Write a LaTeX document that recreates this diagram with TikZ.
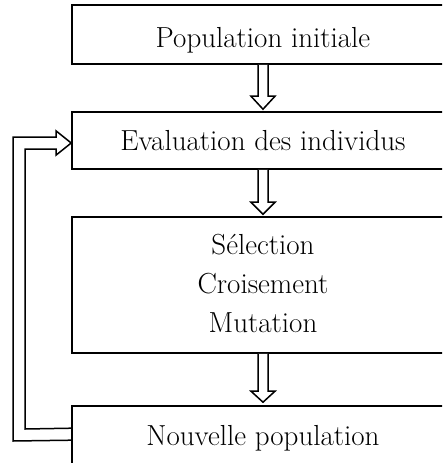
\documentclass[tikz,border=0pt]{standalone}
\usetikzlibrary{calc}
\begin{document}
\begin{tikzpicture}[x=1pt,y=-1pt,
  box/.style={draw, line width=1.6pt, rectangle, inner sep=0pt, minimum width=382pt},
  lbl/.style={anchor=base, inner sep=0pt, font=\fontsize{29}{34}\selectfont},
  fat/.style={draw, line width=1.5pt, line join=miter, fill=white}]
\useasboundingbox (0,0) rectangle (442,463);
\clip (0,0) rectangle (442,463);
\node[box, minimum height=59pt] (b1) at (263,34.5) {};
\node[box, minimum height=57pt] (b2) at (263,140.5) {};
\node[box, minimum height=136pt] (b3) at (263,285) {};
\node[box, minimum height=64pt] (b4) at (263,438) {};
\node[lbl] (t1) at (263,47) {Population initiale};
\node[lbl] (t2) at (263,150) {Evaluation des individus};
\node[lbl] (t3a) at (263,254) {Sélection};
\node[lbl] (t3b) at (263,293) {Croisement};
\node[lbl] (t3c) at (263,332) {Mutation};
\node[lbl] (t4) at (263,445) {Nouvelle population};
% vertical double arrows
\draw[fat] ($(b1.south)+(-5,0)$) -- ($(b2.north)+(-5,-15)$) -- ($(b2.north)+(-12,-15)$) -- ($(b2.north)+(0,-2)$) -- ($(b2.north)+(12,-15)$) -- ($(b2.north)+(5,-15)$) -- ($(b1.south)+(5,0)$);
\draw[fat] ($(b2.south)+(-5,0)$) -- ($(b3.north)+(-5,-14)$) -- ($(b3.north)+(-12,-14)$) -- ($(b3.north)+(0,-2)$) -- ($(b3.north)+(12,-14)$) -- ($(b3.north)+(5,-14)$) -- ($(b2.south)+(5,0)$);
\draw[fat] ($(b3.south)+(-5,0)$) -- ($(b4.north)+(-5,-14)$) -- ($(b4.north)+(-12,-14)$) -- ($(b4.north)+(0,-3)$) -- ($(b4.north)+(12,-14)$) -- ($(b4.north)+(5,-14)$) -- ($(b3.south)+(5,0)$);
% feedback double arrow
\draw[line width=1.5pt, line join=miter] ($(b4.north west)+(0,35)$) -- (13,441) -- (13,137) -- ($(b2.west)+(-15,-3.5)$) -- ($(b2.west)+(-15,-9.5)$) -- ($(b2.west)+(0,2.5)$) -- ($(b2.west)+(-15,14.5)$) -- ($(b2.west)+(-15,8.5)$) -- (25,149) -- (25,429) -- ($(b4.north west)+(0,23)$);
\end{tikzpicture}
\end{document}
